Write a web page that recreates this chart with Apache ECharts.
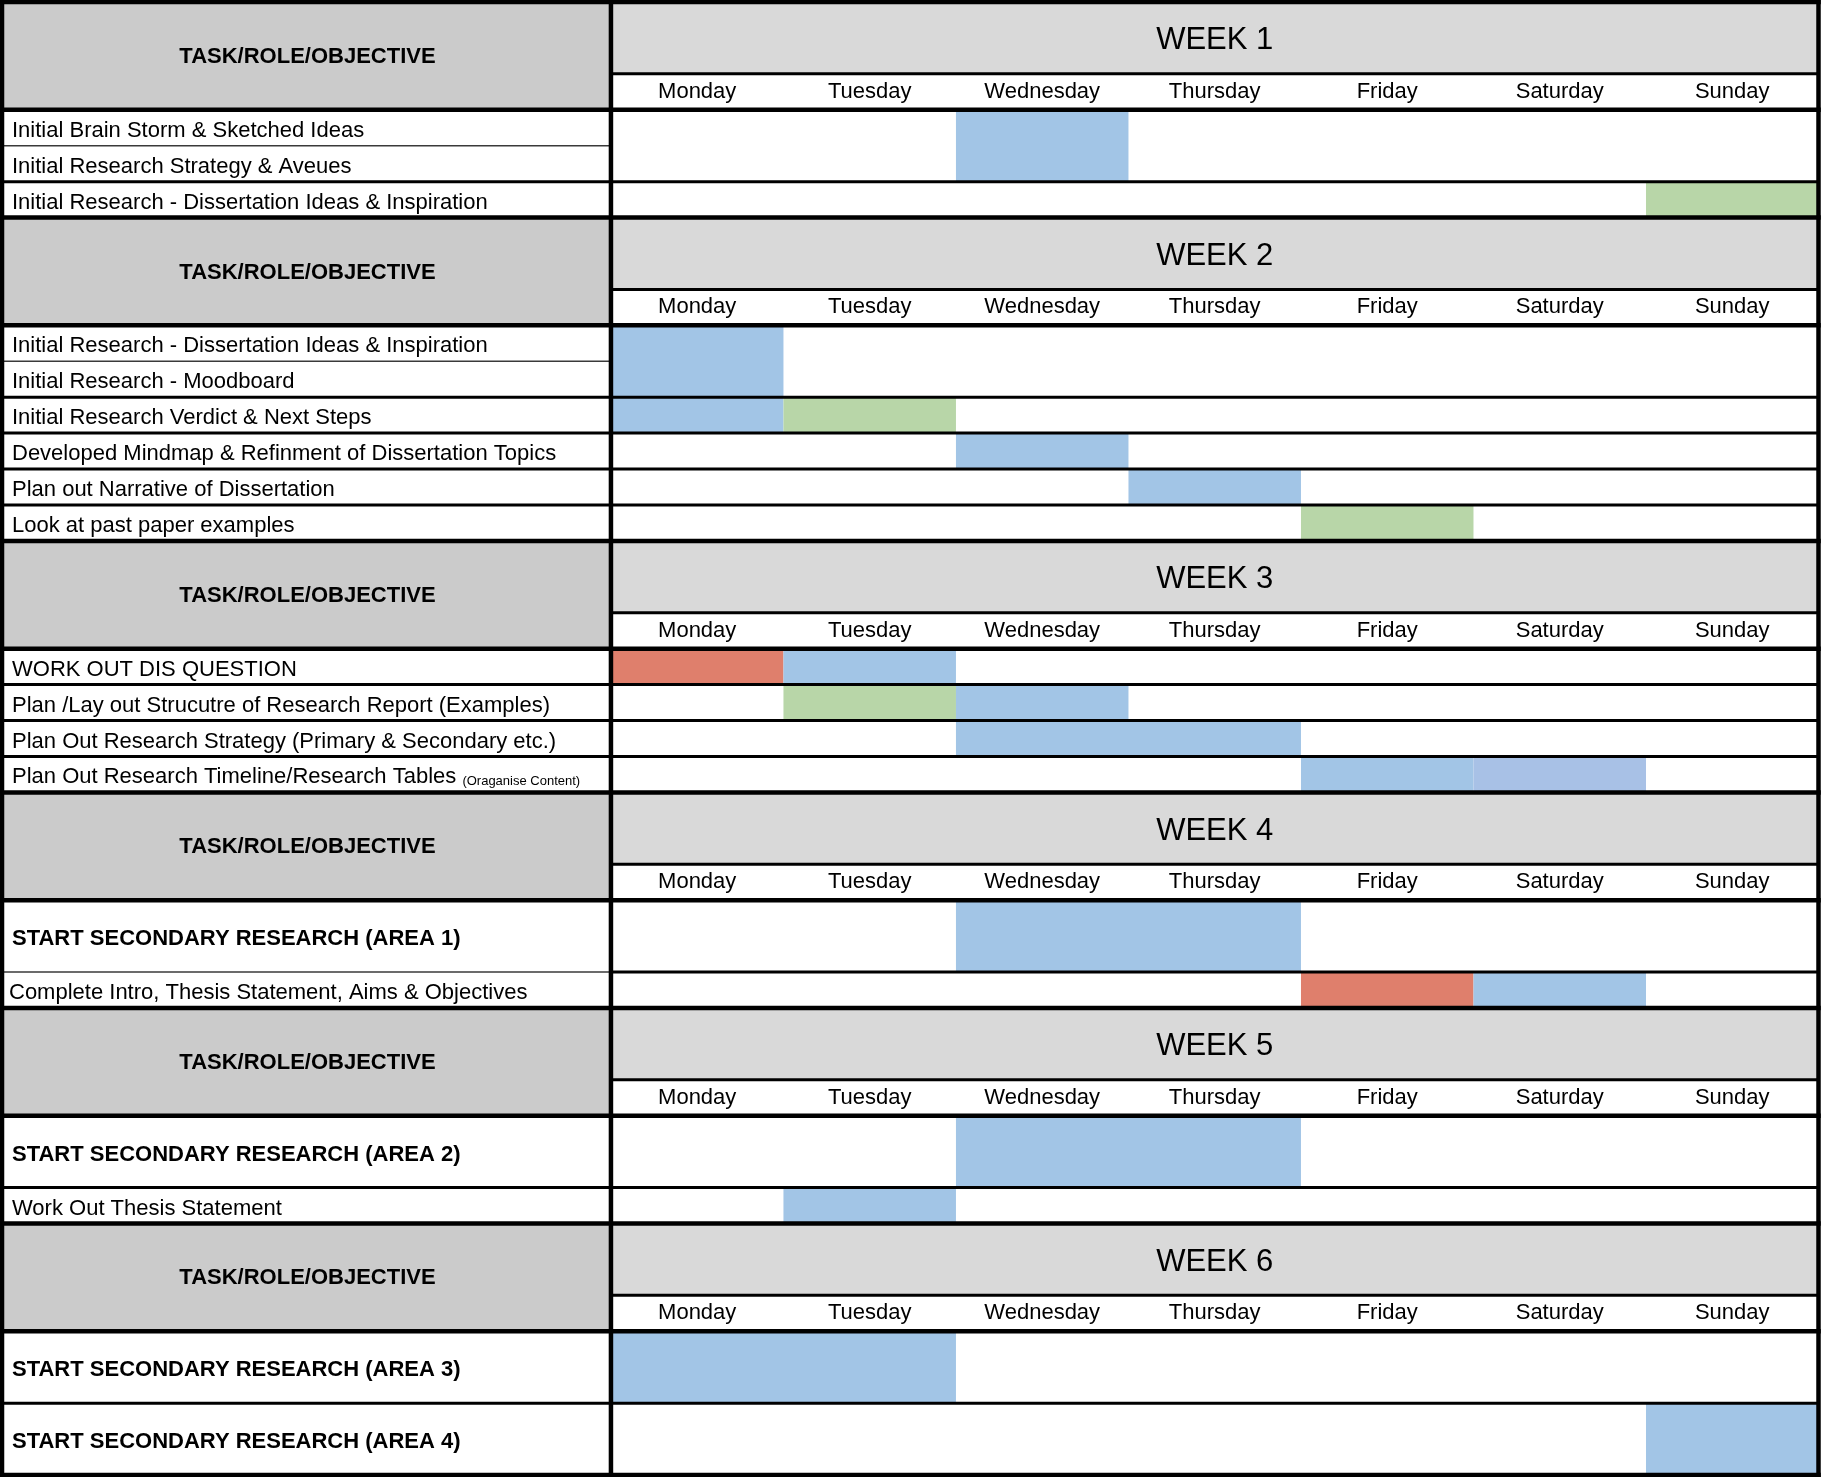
<!DOCTYPE html>
<html>
<head>
<meta charset="utf-8">
<script src="https://cdn.jsdelivr.net/npm/echarts@6/dist/echarts.min.js"></script>
<style>
html,body{margin:0;padding:0;background:#fff;}
#chart{width:1824px;height:1477px;}
</style>
</head>
<body>
<div id="chart"></div>
<script>
// ---------------- DATA ----------------
const weekTitles = ['WEEK 1', 'WEEK 2', 'WEEK 3', 'WEEK 4', 'WEEK 5', 'WEEK 6'];
const dayNames = ['Monday', 'Tuesday', 'Wednesday', 'Thursday', 'Friday', 'Saturday', 'Sunday'];
const headerLabel = 'TASK/ROLE/OBJECTIVE';

const taskNames = [
  'Initial Brain Storm & Sketched Ideas',
  'Initial Research Strategy & Aveues',
  'Initial Research - Dissertation Ideas & Inspiration',
  'Initial Research - Dissertation Ideas & Inspiration',
  'Initial Research - Moodboard',
  'Initial Research Verdict & Next Steps',
  'Developed Mindmap & Refinment of Dissertation Topics',
  'Plan out Narrative of Dissertation',
  'Look at past paper examples',
  'WORK OUT DIS QUESTION',
  'Plan /Lay out Strucutre of Research Report (Examples)',
  'Plan Out Research Strategy (Primary & Secondary etc.)',
  'Plan Out Research Timeline/Research Tables',
  'START SECONDARY RESEARCH (AREA 1)',
  'Complete Intro, Thesis Statement, Aims & Objectives',
  'START SECONDARY RESEARCH (AREA 2)',
  'Work Out Thesis Statement',
  'START SECONDARY RESEARCH (AREA 3)',
  'START SECONDARY RESEARCH (AREA 4)'
];
const taskNotes = ['', '', '', '', '', '', '', '', '', '', '', '', '(Oraganise Content)', '', '', '', '', '', ''];
const taskWeek = [0, 0, 0, 1, 1, 1, 1, 1, 1, 2, 2, 2, 2, 3, 3, 4, 4, 5, 5];
const taskRows = [1, 1, 1, 1, 1, 1, 1, 1, 1, 1, 1, 1, 1, 2, 1, 2, 1, 2, 2];
const taskBold = [0, 0, 0, 0, 0, 0, 0, 0, 0, 0, 0, 0, 0, 1, 0, 1, 0, 1, 1];

// filled cells: first task, last task covered, first day (0 = Monday), number of days, fill kind
const barTask    = [0, 2, 3, 5, 5, 6, 7, 8, 9, 9, 10, 10, 11, 12, 12, 13, 14, 14, 15, 16, 17, 18];
const barTaskEnd = [1, 2, 4, 5, 5, 6, 7, 8, 9, 9, 10, 10, 11, 12, 12, 13, 14, 14, 15, 16, 17, 18];
const barStart   = [2, 6, 0, 0, 1, 2, 3, 4, 0, 1, 1, 2, 2, 4, 5, 2, 4, 5, 2, 1, 0, 6];
const barDays    = [1, 1, 1, 1, 1, 1, 1, 1, 1, 1, 1, 1, 2, 1, 1, 2, 1, 1, 2, 1, 2, 1];
const barKind    = ['blue', 'green', 'blue', 'blue', 'green', 'blue', 'blue', 'green', 'red', 'blue', 'green', 'blue', 'blue', 'blue', 'lavender', 'blue', 'red', 'blue', 'blue', 'blue', 'blue', 'blue'];

// ---------------- STYLE ----------------
const COLORS = { blue: '#A2C5E6', lavender: '#A8C1E6', green: '#B8D6A8', red: '#DF7F6C' };
const LEFT_HEAD = '#CBCBCB';
const TITLE_BG = '#D9D9D9';
const FONT = "'Liberation Sans', Arial, sans-serif";
const HEADER_ROWS = 3;
const X_MIN = -3.53, X_MAX = 7;
const thinLabelBoundaries = [14];     // task index whose top border in label column is thin
const lessIndent = [14];              // labels that sit a little further left
const LINE_W = [4.5, 3, 1.5];

// ---------------- LAYOUT (derived) ----------------
const weekY = [], taskY = [];
let cursor = 0;
weekTitles.forEach((_, w) => {
  weekY[w] = cursor; cursor += HEADER_ROWS;
  taskWeek.forEach((tw, i) => { if (tw === w) { taskY[i] = cursor; cursor += taskRows[i]; } });
});
const totalRows = cursor;

const headerData = weekTitles.map((_, w) => [weekY[w]]);
const barData = barTask.map((t, b) => [barStart[b], barStart[b] + barDays[b], taskY[t], taskY[barTaskEnd[b]] + taskRows[barTaskEnd[b]]]);

// texts: [x, y, type, index]  type 0 header label,1 week title,2 day,3 task
const textData = [];
weekTitles.forEach((_, w) => {
  textData.push([X_MIN / 2, weekY[w] + 1.5, 0, w]);
  textData.push([X_MAX / 2, weekY[w] + 1, 1, w]);
  dayNames.forEach((d, i) => textData.push([i + 0.5, weekY[w] + 2.5, 2, i]));
});
taskNames.forEach((n, i) => textData.push([X_MIN, taskY[i] + taskRows[i] / 2, 3, i]));

// lines: [x1, y1, x2, y2, weightIndex]
const lineData = [];
weekTitles.forEach((_, w) => {
  const y0 = weekY[w];
  lineData.push([X_MIN, y0, X_MAX, y0, 0]);
  lineData.push([0, y0 + 2, X_MAX, y0 + 2, 1]);
  lineData.push([X_MIN, y0 + HEADER_ROWS, X_MAX, y0 + HEADER_ROWS, 0]);
});
for (let i = 1; i < taskNames.length; i++) {
  if (taskWeek[i] !== taskWeek[i - 1]) continue;
  const yb = taskY[i];
  const merged = barData.some(b => b[2] < yb && yb < b[3]);
  const thin = merged || thinLabelBoundaries.indexOf(i) >= 0;
  lineData.push([X_MIN, yb, 0, yb, thin ? 2 : 1]);
  if (!merged) lineData.push([0, yb, X_MAX, yb, 1]);
}
lineData.push([X_MIN, totalRows, X_MAX, totalRows, 0]);
lineData.push([X_MIN, 0, X_MIN, totalRows, 0]);
lineData.push([0, 0, 0, totalRows, 0]);
lineData.push([X_MAX, 0, X_MAX, totalRows, 0]);

// ---------------- CHART ----------------
const chart = echarts.init(document.getElementById('chart'), null, { renderer: 'canvas' });

function rectBetween(api, x1, y1, x2, y2, fill) {
  const p1 = api.coord([x1, y1]);
  const p2 = api.coord([x2, y2]);
  return { type: 'rect', shape: { x: p1[0], y: p1[1], width: p2[0] - p1[0], height: p2[1] - p1[1] }, style: { fill: fill } };
}

const option = {
  animation: false,
  backgroundColor: '#ffffff',
  grid: { left: 2, right: 5.5, top: 2, bottom: 2, containLabel: false },
  xAxis: { type: 'value', min: X_MIN, max: X_MAX, show: false },
  yAxis: { type: 'value', min: 0, max: totalRows, inverse: true, show: false },
  series: [
    {
      type: 'custom', clip: false, silent: true,
      data: headerData,
      renderItem: function (params, api) {
        const y0 = api.value(0);
        return {
          type: 'group', children: [
            rectBetween(api, X_MIN, y0, 0, y0 + HEADER_ROWS, LEFT_HEAD),
            rectBetween(api, 0, y0, X_MAX, y0 + 2, TITLE_BG),
            rectBetween(api, 0, y0 + 2, X_MAX, y0 + HEADER_ROWS, '#ffffff')
          ]
        };
      }
    },
    {
      type: 'custom', clip: false, silent: true,
      data: barData,
      renderItem: function (params, api) {
        return rectBetween(api, api.value(0), api.value(2), api.value(1), api.value(3), COLORS[barKind[params.dataIndex]]);
      }
    },
    {
      type: 'custom', clip: false, silent: true,
      data: lineData,
      renderItem: function (params, api) {
        const p1 = api.coord([api.value(0), api.value(1)]);
        const p2 = api.coord([api.value(2), api.value(3)]);
        const w = LINE_W[api.value(4)];
        return {
          type: 'line',
          shape: { x1: p1[0], y1: p1[1], x2: p2[0], y2: p2[1] },
          style: { stroke: api.value(4) === 2 ? '#3a3a3a' : '#000000', lineWidth: w, lineCap: 'square' }
        };
      }
    },
    {
      type: 'custom', clip: false, silent: true,
      data: textData,
      renderItem: function (params, api) {
        const kind = api.value(2);
        const idx = api.value(3);
        const p = api.coord([api.value(0), api.value(1)]);
        if (kind === 0) {
          return { type: 'text', x: p[0] + 1, y: p[1] + 1, style: { text: headerLabel, font: 'bold 22px ' + FONT, fill: '#000', align: 'center', verticalAlign: 'middle' } };
        }
        if (kind === 1) {
          return { type: 'text', x: p[0], y: p[1] + 3, style: { text: weekTitles[idx], font: '31px ' + FONT, fill: '#000', align: 'center', verticalAlign: 'middle' } };
        }
        if (kind === 2) {
          return { type: 'text', x: p[0], y: p[1], style: { text: dayNames[idx], font: '22px ' + FONT, fill: '#000', align: 'center', verticalAlign: 'middle' } };
        }
        const font = (taskBold[idx] ? 'bold ' : '') + '22px ' + FONT;
        const tx = p[0] + (lessIndent.indexOf(idx) >= 0 ? 7 : 10);
        const ty = p[1] + 3;
        if (taskNotes[idx]) {
          return {
            type: 'text', x: tx, y: ty,
            style: {
              text: '{m|' + taskNames[idx] + ' }{s|' + taskNotes[idx] + '}',
              fill: '#000', align: 'left', verticalAlign: 'middle',
              rich: {
                m: { font: font, fill: '#000' },
                s: { font: '13px ' + FONT, fill: '#000', verticalAlign: 'bottom', padding: [0, 0, 1, 0] }
              }
            }
          };
        }
        return { type: 'text', x: tx, y: ty, style: { text: taskNames[idx], font: font, fill: '#000', align: 'left', verticalAlign: 'middle' } };
      }
    }
  ]
};
chart.setOption(option);
</script>
</body>
</html>
